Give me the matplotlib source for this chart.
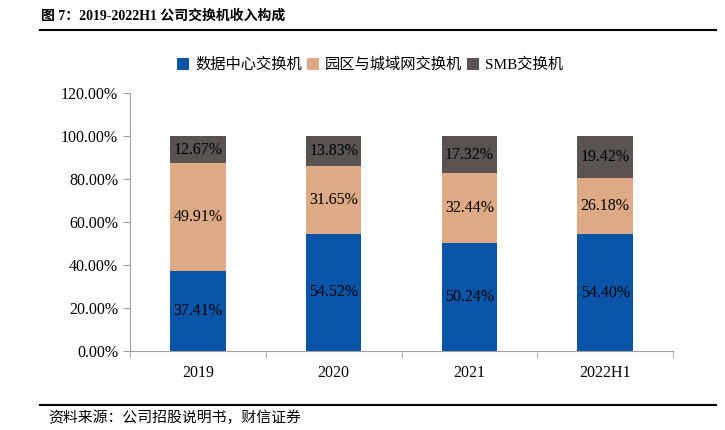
import matplotlib.pyplot as plt
import numpy as np

plt.rcParams['font.family'] = ['Liberation Serif', 'Noto Sans CJK SC']

categories = ['2019', '2020', '2021', '2022H1']
datacenter = [37.41, 54.52, 50.24, 54.40]
campus = [49.91, 31.65, 32.44, 26.18]
smb = [12.67, 13.83, 17.32, 19.42]
series_names = ['数据中心交换机', '园区与城域网交换机', 'SMB交换机']
colors = ['#0B55A8', '#DDAA85', '#5B5352']

fig = plt.figure(figsize=(7.25, 4.3), dpi=100)
ax = fig.add_axes([130 / 725, 1 - 351 / 430, 543 / 725, 258 / 430])

x = np.arange(len(categories))
bottom = np.zeros(len(categories))
for vals, name, c in zip([datacenter, campus, smb], series_names, colors):
    bars = ax.bar(x, vals, width=0.41, bottom=bottom, color=c, label=name)
    for xi, b, v in zip(x, bottom, vals):
        ax.text(xi, b + v / 2, f'{v:.2f}%', ha='center', va='center',
                fontsize=11.5, color='black')
    bottom += np.array(vals)

ax.set_xlim(-0.5, len(categories) - 0.5)
ax.set_ylim(0, 120)
ax.set_yticks(np.arange(0, 121, 20))
ax.set_yticklabels([f'{v:.2f}%' for v in np.arange(0, 121, 20)], fontsize=11.5)
ax.set_xticks(x)
ax.set_xticklabels(categories, fontsize=11.5)
ax.set_xticks(np.arange(-0.5, len(categories), 1), minor=True)
ax.tick_params(axis='x', which='major', length=0, pad=10)
ax.tick_params(axis='x', which='minor', length=5, color='#A0A0A0')
ax.tick_params(axis='y', length=5, color='#A0A0A0')
for s in ['top', 'right']:
    ax.spines[s].set_visible(False)
for s in ['left', 'bottom']:
    ax.spines[s].set_color('#A0A0A0')

fig.legend(loc='center', bbox_to_anchor=(370 / 725, 1 - 65 / 430), ncol=3,
           frameon=False, handlelength=0.8, handleheight=0.8,
           handletextpad=0.4, columnspacing=0.3,
           prop={'family': ['Liberation Serif', 'Noto Sans CJK SC'], 'size': 11})

# header and footer
fig.text(41 / 725, 1 - 16 / 430, '图 7：2019-2022H1 公司交换机收入构成',
         fontsize=10, fontweight='bold', va='center', ha='left')
fig.add_artist(plt.Line2D([40 / 725, 716 / 725], [1 - 30 / 430] * 2,
                          color='black', lw=1.5))
fig.add_artist(plt.Line2D([40 / 725, 716 / 725], [1 - 405 / 430] * 2,
                          color='black', lw=1.5))
fig.text(48 / 725, 1 - 418 / 430, '资料来源：公司招股说明书，财信证券',
         fontsize=10.7, va='center', ha='left')

fig.savefig('out.png', dpi=100)
